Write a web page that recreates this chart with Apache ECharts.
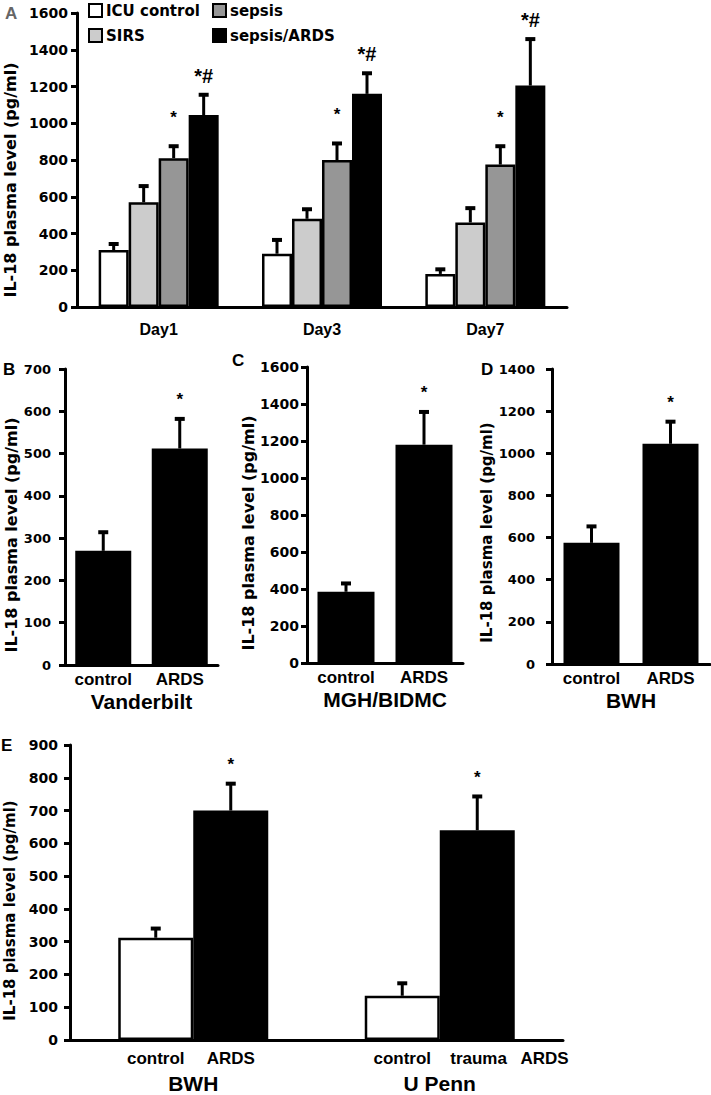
<!DOCTYPE html>
<html><head><meta charset="utf-8">
<script src="https://cdn.jsdelivr.net/npm/echarts@6/dist/echarts.min.js"></script>
<style>html,body{margin:0;padding:0;background:#fff;} #c{width:711px;height:1095px;}</style>
</head><body><div id="c"></div>
<script>
// ---------- Panel A ----------
const daysA = ['Day1', 'Day3', 'Day7'];
const groupNamesA = ['ICU control', 'SIRS', 'sepsis', 'sepsis/ARDS'];
const icuControlA = [310, 290, 180];
const icuControlErrA = [33, 75, 25];
const sirsA = [570, 480, 460];
const sirsErrA = [88, 52, 78];
const sepsisA = [810, 800, 775];
const sepsisErrA = [65, 90, 100];
const sepsisArdsA = [1045, 1160, 1205];
const sepsisArdsErrA = [110, 112, 253];
const icuControlMarkA = ['', '', ''];
const sirsMarkA = ['', '', ''];
const sepsisMarkA = ['*', '*', '*'];
const sepsisArdsMarkA = ['*#', '*#', '*#'];
const yMaxA = 1600, yStepA = 200;

// ---------- Panels B, C, D ----------
const groupsBCD = ['control', 'ARDS'];
const vanderbiltB = [270, 512];
const vanderbiltErrB = [44, 70];
const mghBidmcC = [385, 1180];
const mghBidmcErrC = [45, 177];
const bwhD = [575, 1045];
const bwhErrD = [78, 105];
const marksBCD = ['', '*'];
const sitesBCD = ['Vanderbilt', 'MGH/BIDMC', 'BWH'];
const yMaxB = 700, yStepB = 100;
const yMaxC = 1600, yStepC = 200;
const yMaxD = 1400, yStepD = 200;

// ---------- Panel E ----------
const sitesE = ['BWH', 'U Penn'];
const controlE = [312, 135];
const controlErrE = [28, 38];
const ardsE = [700, 640];
const ardsErrE = [82, 103];
const controlLabelsE = ['control', 'control'];
const ardsLabelsE = ['ARDS', 'trauma'];
const ardsSuffixE = ['', 'ARDS'];
const controlMarksE = ['', ''];
const ardsMarksE = ['*', '*'];
const yMaxE = 900, yStepE = 100;

const yTitle = 'IL-18 plasma level (pg/ml)';
const FD = 'DejaVu Sans', FL = 'Liberation Sans';

function yAx(gi, max, step, fs, margin, gap, nameFs, shift) {
  return {
    type: 'value', gridIndex: gi, min: 0, max: max, interval: step,
    name: yTitle, nameLocation: 'middle', nameGap: gap,
    nameTextStyle: { fontFamily: FD, fontWeight: 'bold', fontSize: nameFs, color: '#000', padding: [0, shift * 2, 0, 0] },
    axisLine: { show: true, lineStyle: { color: '#000', width: 3 } },
    axisTick: { show: true, length: 6, lineStyle: { color: '#000', width: 3 } },
    splitLine: { show: false },
    axisLabel: { color: '#000', fontFamily: FD, fontWeight: 'bold', fontSize: fs, margin: margin, formatter: v => String(v) }
  };
}
function xAx(gi, data, font, fs, margin, name, nameGap) {
  const o = {
    type: 'category', gridIndex: gi, data: data,
    axisLine: { show: true, lineStyle: { color: '#000', width: 3 } },
    axisTick: { show: false },
    axisLabel: { color: '#000', fontFamily: font, fontWeight: 'bold', fontSize: fs, margin: margin, interval: 0 }
  };
  if (name) {
    o.name = name; o.nameLocation = 'middle'; o.nameGap = nameGap;
    o.nameTextStyle = { fontFamily: FL, fontWeight: 'bold', fontSize: 21, color: '#000' };
  }
  return o;
}
function errSeries(ai, vals, errs, marks, offsetPx, o) {
  return {
    type: 'custom', xAxisIndex: ai, yAxisIndex: ai, z: 5, silent: true,
    data: vals.map((v, i) => [i, v, errs[i]]),
    renderItem: function (params, api) {
      const i = api.value(0), v = api.value(1), e = api.value(2);
      const base = api.coord([i, v]);
      const top = api.coord([i, v + e]);
      const x = base[0] + offsetPx;
      const cw = o.cap / 2;
      const ch = [
        { type: 'line', shape: { x1: x, y1: base[1], x2: x, y2: top[1] }, style: { stroke: '#000', lineWidth: o.lw } },
        { type: 'line', shape: { x1: x - cw, y1: top[1], x2: x + cw, y2: top[1] }, style: { stroke: '#000', lineWidth: o.capLw } }
      ];
      const m = marks[params.dataIndex];
      if (m) {
        ch.push({ type: 'text', x: x, y: top[1] - (m.length > 1 ? o.gap2 : o.gap1),
          style: { text: m, fontFamily: FL, fontWeight: 'bold', fontSize: m.length > 1 ? 20 : 17, fill: '#000', align: 'center', verticalAlign: 'middle' } });
      }
      return { type: 'group', children: ch };
    }
  };
}

const valsA = [icuControlA, sirsA, sepsisA, sepsisArdsA];
const errsA = [icuControlErrA, sirsErrA, sepsisErrA, sepsisArdsErrA];
const marksA = [icuControlMarkA, sirsMarkA, sepsisMarkA, sepsisArdsMarkA];
const colorsA = ['#ffffff', '#cccccc', '#969696', '#000000'];
const barWA = 30;

const series = [];
groupNamesA.forEach((n, k) => {
  series.push({ type: 'bar', name: n, xAxisIndex: 0, yAxisIndex: 0, data: valsA[k], barWidth: barWA, barGap: '0%',
    itemStyle: { color: colorsA[k], borderColor: '#000', borderWidth: 2.5 } });
});
groupNamesA.forEach((n, k) => {
  series.push(errSeries(0, valsA[k], errsA[k], marksA[k], (k - 1.5) * barWA, { cap: 10, lw: 3, capLw: 4, gap1: 29, gap2: 19 }));
});
[[vanderbiltB, vanderbiltErrB, 56], [mghBidmcC, mghBidmcErrC, 57], [bwhD, bwhErrD, 56]].forEach((d, j) => {
  const ai = j + 1;
  series.push({ type: 'bar', xAxisIndex: ai, yAxisIndex: ai, data: d[0], barWidth: d[2], itemStyle: { color: '#000' } });
  series.push(errSeries(ai, d[0], d[1], marksBCD, 0, { cap: 10, lw: 3, capLw: 4, gap1: 19, gap2: 19 }));
});
const barWE = 75;
series.push({ type: 'bar', name: 'control', xAxisIndex: 4, yAxisIndex: 4, data: controlE, barWidth: barWE, barGap: '0%',
  itemStyle: { color: '#fff', borderColor: '#000', borderWidth: 2.5 },
  label: { show: true, position: 'bottom', distance: 10, color: '#000', fontFamily: FL, fontWeight: 'bold', fontSize: 17,
    formatter: p => controlLabelsE[p.dataIndex] } });
series.push({ type: 'bar', name: 'ARDS', xAxisIndex: 4, yAxisIndex: 4, barWidth: barWE, barGap: '0%',
  data: ardsE.map((v, i) => ardsSuffixE[i] ? { value: v, label: { align: 'left', offset: [-27, 0] } } : v),
  itemStyle: { color: '#000' },
  label: { show: true, position: 'bottom', distance: 10, color: '#000', fontFamily: FL, fontWeight: 'bold', fontSize: 17,
    formatter: p => ardsLabelsE[p.dataIndex] + (ardsSuffixE[p.dataIndex] ? '   ' + ardsSuffixE[p.dataIndex] : '') } });
series.push(errSeries(4, controlE, controlErrE, controlMarksE, -barWE / 2, { cap: 10, lw: 3, capLw: 4, gap1: 19, gap2: 19 }));
series.push(errSeries(4, ardsE, ardsErrE, ardsMarksE, barWE / 2, { cap: 10, lw: 3, capLw: 4, gap1: 19, gap2: 19 }));

const legendBase = { padding: 0, itemWidth: 13, itemHeight: 13, itemGap: 4, icon: 'rect', selectedMode: false,
  textStyle: { fontFamily: FD, fontWeight: 'bold', fontSize: 15, color: '#000', padding: [0, 0, 0, -1] } };
const letter = (t, x, y, c) => ({ type: 'text', x: x, y: y, style: { text: t, fontFamily: FL, fontWeight: 'bold', fontSize: 17, fill: c || '#000', verticalAlign: 'middle' } });

const option = {
  animation: false,
  backgroundColor: '#fff',
  grid: [
    { left: 77, top: 13, width: 490, height: 294, outerBoundsMode: 'none' },
    { left: 65, top: 369, width: 153, height: 296, outerBoundsMode: 'none' },
    { left: 307, top: 367, width: 156, height: 296, outerBoundsMode: 'none' },
    { left: 552, top: 369, width: 158, height: 295, outerBoundsMode: 'none' },
    { left: 70, top: 745, width: 493, height: 295, outerBoundsMode: 'none' }
  ],
  xAxis: [
    xAx(0, daysA, FL, 16, 14),
    xAx(1, groupsBCD, FL, 17, 6, sitesBCD[0], 26),
    xAx(2, groupsBCD, FL, 17, 6, sitesBCD[1], 26),
    xAx(3, groupsBCD, FL, 17, 6, sitesBCD[2], 26),
    xAx(4, sitesE, FL, 21, 33)
  ],
  yAxis: [
    yAx(0, yMaxA, yStepA, 14, 9, 46, 16, 20),
    yAx(1, yMaxB, yStepB, 13, 14, 37, 16, 18),
    yAx(2, yMaxC, yStepC, 14, 8, 44, 16, 18),
    yAx(3, yMaxD, yStepD, 13, 17, 55, 15, 16),
    yAx(4, yMaxE, yStepE, 14, 12, 40, 15, 18)
  ],
  legend: [
    Object.assign({}, legendBase, { data: ['ICU control'], left: 88, top: 3 }),
    Object.assign({}, legendBase, { data: ['sepsis'], left: 212, top: 3 }),
    Object.assign({}, legendBase, { data: ['SIRS'], left: 88, top: 28 }),
    Object.assign({}, legendBase, { data: ['sepsis/ARDS'], left: 212, top: 28 })
  ],
  graphic: [
    letter('A', 5, 13, '#666'),
    letter('B', 3, 369),
    letter('C', 232, 360),
    letter('D', 481, 369),
    letter('E', 1, 745)
  ],
  series: series
};
const chart = echarts.init(document.getElementById('c'), null, { renderer: 'svg', width: 711, height: 1095 });
chart.setOption(option);
</script>
</body></html>
